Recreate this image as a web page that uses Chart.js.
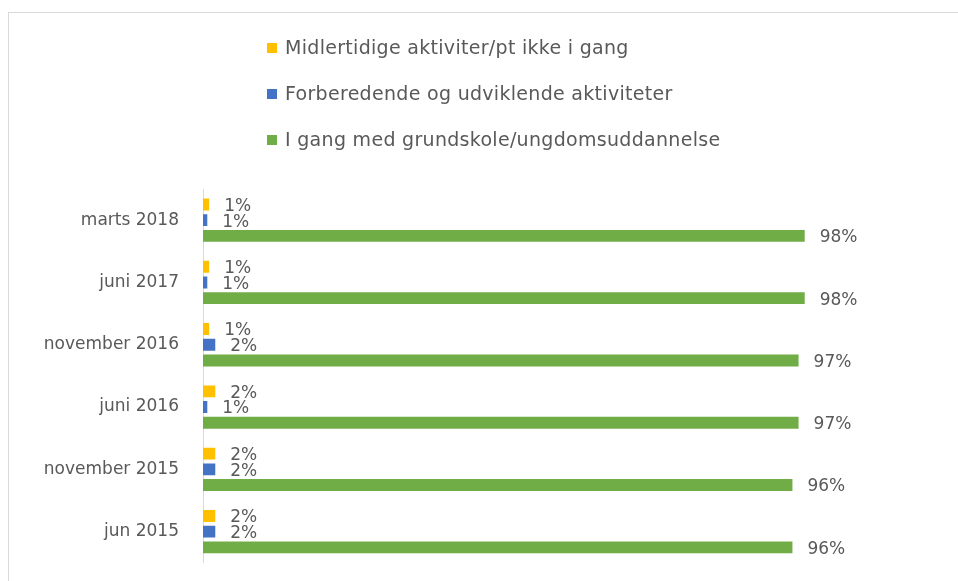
<!DOCTYPE html>
<html>
<head>
<meta charset="utf-8">
<script src="https://cdn.jsdelivr.net/npm/chart.js@4/dist/chart.umd.min.js"></script>
<style>
  body { margin: 0; background: #fff; font-family: "DejaVu Sans", sans-serif; }
  #wrap { position: relative; width: 958px; height: 581px; overflow: hidden; }
  #frame { position: absolute; left: 8px; top: 12px; width: 1000px; height: 700px; border: 1px solid #d9d9d9; }
  #legend { position: absolute; left: 267px; top: 36px; }
  .item { height: 46px; display: flex; align-items: flex-start; color: #595959; font-size: 19px; letter-spacing: 0.3px; }
  .box { width: 10px; height: 10px; margin: 7px 8px 0 0; }
  canvas { position: absolute; left: 0; top: 0; }
</style>
</head>
<body>
<div id="wrap">
  <div id="frame"></div>
  <canvas id="chart" width="958" height="589"></canvas>
  <div id="legend"></div>
</div>
<script>
// categories, top to bottom
const periods = ["marts 2018", "juni 2017", "november 2016", "juni 2016", "november 2015", "jun 2015"];

// shares in percent
const midlertidige = [1, 1, 1, 2, 2, 2];
const forberedende = [0.7, 0.7, 2, 0.7, 2, 2];
const iGang = [98, 98, 97, 97, 96, 96];

const seriesNames = [
  "Midlertidige aktiviter/pt ikke i gang",
  "Forberedende og udviklende aktiviteter",
  "I gang med grundskole/ungdomsuddannelse",
];
const colors = ["#FFC000", "#4472C4", "#70AD47"];

// draws "x%" labels to the right of each bar
const barLabels = {
  id: "barLabels",
  afterDatasetsDraw(chart) {
    const ctx = chart.ctx;
    ctx.save();
    ctx.font = '17px "DejaVu Sans"';
    ctx.fillStyle = "#595959";
    ctx.textBaseline = "middle";
    chart.data.datasets.forEach((ds, i) => {
      chart.getDatasetMeta(i).data.forEach((bar, j) => {
        ctx.fillText(Math.round(ds.data[j]) + "%", bar.x + 15, bar.y + 2);
      });
    });
    ctx.restore();
  },
};

new Chart(document.getElementById("chart"), {
  type: "bar",
  data: {
    labels: periods,
    datasets: [midlertidige, forberedende, iGang].map((d, i) => ({
      label: seriesNames[i],
      data: d,
      backgroundColor: colors[i],
      categoryPercentage: 0.756,
      barPercentage: 0.76,
    })),
  },
  options: {
    indexAxis: "y",
    responsive: false,
    animation: false,
    layout: { padding: { top: 189, bottom: 0, right: 141, left: 0 } },
    plugins: { legend: { display: false }, tooltip: { enabled: false } },
    scales: {
      x: { min: 0, max: 100, display: false },
      y: {
        grid: { display: false },
        border: { color: "#d9d9d9" },
        ticks: { color: "#595959", font: { family: "DejaVu Sans", size: 17 }, padding: 16 },
        afterFit(scale) { scale.width = 203; },
      },
    },
  },
  plugins: [barLabels],
});

// legend built from the same series names and colours
const legend = document.getElementById("legend");
seriesNames.forEach((name, i) => {
  const row = document.createElement("div");
  row.className = "item";
  row.innerHTML = '<span class="box" style="background:' + colors[i] + '"></span><span>' + name + "</span>";
  legend.appendChild(row);
});
</script>
</body>
</html>
